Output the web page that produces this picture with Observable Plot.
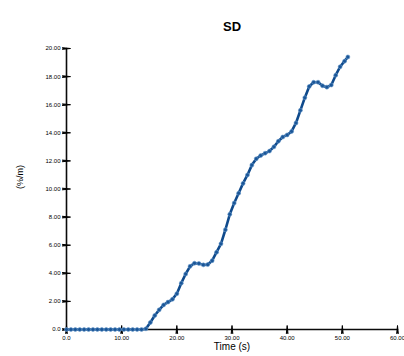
<!DOCTYPE html>
<html><head><meta charset="utf-8">
<script src="https://cdn.jsdelivr.net/npm/d3@7"></script>
<script src="https://cdn.jsdelivr.net/npm/@observablehq/plot@0.6"></script>
<style>body{margin:0;background:#fff}</style>
</head><body><div id="chart"></div>
<script>
const title = "SD";
const xLabel = "Time (s)";
const yLabel = "(%/m)";
const xTicks = [0, 10, 20, 30, 40, 50, 60];
const yTicks = [0, 2, 4, 6, 8, 10, 12, 14, 16, 18, 20];
const times = [0,0.8,1.6,2.4,3.2,4.0,4.8,5.6,6.4,7.2,8.0,8.8,9.6,10.4,11.2,12.0,12.8,13.6,14.4,
  15.2,16.0,16.8,17.6,18.4,19.2,20.0,20.8,21.6,22.4,23.2,24.0,24.8,25.6,26.4,27.2,28.0,28.8,29.6,
  30.4,31.2,32.0,32.8,33.6,34.4,35.2,36.0,36.8,37.6,38.4,39.2,40.0,40.8,41.6,42.4,43.2,44.0,44.8,
  45.6,46.4,47.2,48.0,48.8,49.6,50.4,51.0];
const sd = [0,0,0,0,0,0,0,0,0,0,0,0,0,0,0,0,0,0,0.05,
  0.5,1.0,1.4,1.75,1.95,2.15,2.55,3.3,3.95,4.5,4.72,4.7,4.6,4.62,4.9,5.5,6.1,7.1,8.2,
  9.0,9.7,10.4,11.0,11.7,12.15,12.38,12.55,12.7,13.0,13.4,13.7,13.85,14.1,14.7,15.6,16.5,17.3,17.6,
  17.6,17.35,17.25,17.4,18.1,18.7,19.1,19.4];
const data = times.map((t, i) => ({t, v: sd[i]}));
const fmt = d => d === 0 ? "0.0" : d.toFixed(2);
const font = "Liberation Sans, Arial, sans-serif";
const xAxisPts = xTicks.map(x => ({x, y: yTicks[0]}));
const yAxisPts = yTicks.map(y => ({x: xTicks[0], y}));

const chart = Plot.plot({
  width: 404, height: 356,
  marginLeft: 66, marginRight: 7, marginTop: 48, marginBottom: 27,
  style: {fontFamily: font},
  x: {domain: [0, 60]},
  y: {domain: [0, 20]},
  marks: [
    Plot.axisX({ticks: xTicks, tickFormat: fmt, tickSize: 0, tickPadding: 6, fontSize: 6, label: null, fill: "black"}),
    Plot.axisY({ticks: yTicks, tickFormat: fmt, tickSize: 0, tickPadding: 6, fontSize: 6, label: null, fill: "black"}),
    Plot.line(yAxisPts, {x: "x", y: "y", stroke: "#0a0a0a", strokeWidth: 1.6}),
    Plot.line(xAxisPts, {x: "x", y: "y", stroke: "#0a0a0a", strokeWidth: 1.6}),
    Plot.vector(xTicks, {x: d => d, y: 0, length: 8, rotate: 0, anchor: "middle", shape: "spike", r: 0.8, stroke: "#000000", fill: "#000000", strokeWidth: 1}),
    Plot.vector(yTicks, {x: 0, y: d => d, length: 8, rotate: 90, anchor: "middle", shape: "spike", r: 0.8, stroke: "#000000", fill: "#000000", strokeWidth: 1}),
    Plot.line(data, {x: "t", y: "v", stroke: "#0f4a8c", strokeWidth: 2.6}),
    Plot.dot(data, {x: "t", y: "v", r: 2, fill: "#1b5697", stroke: "#6f9fd0", strokeWidth: 0.6}),
    Plot.text([title], {frameAnchor: "top", dy: -27, fontSize: 13, fontWeight: "bold", fill: "black"}),
    Plot.text([xLabel], {frameAnchor: "bottom", dy: 20, fontSize: 10, fill: "black"}),
    Plot.text([yLabel], {frameAnchor: "left", dx: -46, rotate: -90, fontSize: 9, fill: "black"})
  ]
});
document.getElementById("chart").appendChild(chart);
</script></body></html>
